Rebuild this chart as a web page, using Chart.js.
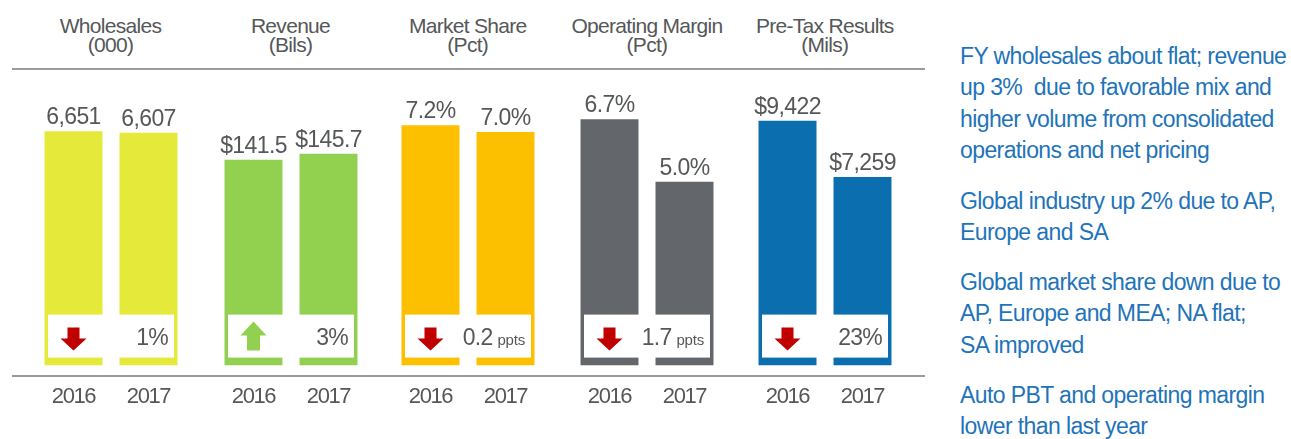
<!DOCTYPE html>
<html>
<head>
<meta charset="utf-8">
<script src="https://cdn.jsdelivr.net/npm/chart.js@4.4.1/dist/chart.umd.min.js"></script>
<style>
  body { margin: 0; width: 1291px; height: 439px; background: #fff; position: relative; overflow: hidden;
         font-family: 'Liberation Sans', Arial, sans-serif; }
  .title { position: absolute; top: 17px; width: 180px; text-align: center; color: #555759;
           font-size: 21px; line-height: 18.5px; letter-spacing: -0.7px; }
  .rule { position: absolute; left: 12px; width: 913px; height: 2px; background: #9b9b9b; z-index: 2; }
  canvas { position: absolute; top: 80px; }
  .note { position: absolute; left: 960px; color: #1f74b9; font-size: 23px; line-height: 31.3px;
          letter-spacing: -0.6px; white-space: nowrap; }
</style>
</head>
<body>
<div id="titles"></div>
<div class="rule" style="top:68px"></div>
<div class="rule" style="top:375px"></div>
<div id="charts"></div>

<div class="note" style="top:41px">FY wholesales about flat; revenue<br>up 3%&nbsp; due to favorable mix and<br>higher volume from consolidated<br>operations and net pricing</div>
<div class="note" style="top:186px">Global industry up 2% due to AP,<br>Europe and SA</div>
<div class="note" style="top:267px">Global market share down due to<br>AP, Europe and MEA; NA flat;<br>SA improved</div>
<div class="note" style="top:380px">Auto PBT and operating margin<br>lower than last year</div>

<script>
// chart data
const groups = ['Wholesales', 'Revenue', 'Market Share', 'Operating Margin', 'Pre-Tax Results'];
const units = ['(000)', '(Bils)', '(Pct)', '(Pct)', '(Mils)'];
const years = ['2016', '2017'];
const values2016 = [6651, 141.5, 7.2, 6.7, 9422];
const values2017 = [6607, 145.7, 7.0, 5.0, 7259];
const changeValues = ['1%', '3%', '0.2', '1.7', '23%'];
const changeUnits = ['', '', 'ppts', 'ppts', ''];
const changeDirs = ['down', 'up', 'down', 'down', 'down'];

// label formats
const prefixes = ['', '$', '', '', '$'];
const suffixes = ['', '', '%', '%', ''];
const decimals = [0, 1, 1, 1, 0];

// look
const barColors = ['#e5ea3a', '#92d050', '#fcc000', '#63666a', '#0a6eaf'];
const yMax = [7534, 182.6, 7.955, 7.226, 10225];
const centers = [110.5, 290.5, 467.75, 647, 824.75];
const textColor = '#555759';
const downColor = '#c00000';

function fmt(i, v) {
    return prefixes[i] + v.toLocaleString('en-US', {minimumFractionDigits: decimals[i], maximumFractionDigits: decimals[i]}) + suffixes[i];
}

const labelPlugin = {
    id: 'barLabels',
    beforeDraw(chart) {
        // tighter tick labels, the original font is narrower
        chart.ctx.letterSpacing = '-1.4px';
    },
    afterDatasetsDraw(chart) {
        const ctx = chart.ctx;
        const i = chart.options.groupIndex;
        const bars = chart.getDatasetMeta(0).data;
        const bottom = chart.chartArea.bottom;
        const values = chart.data.datasets[0].data;
        ctx.save();

        // values above bars
        ctx.fillStyle = textColor;
        ctx.font = '23px "Liberation Sans", Arial, sans-serif';
        ctx.letterSpacing = '-0.6px';
        ctx.textAlign = 'center';
        ctx.textBaseline = 'alphabetic';
        bars.forEach((b, k) => ctx.fillText(fmt(i, values[k]), b.x, b.y - 7));

        // change box
        const half = bars[0].width / 2;
        const left = bars[0].x - half + 3.5;
        const right = bars[1].x + half - 3.5;
        ctx.fillStyle = '#fff';
        ctx.fillRect(left, bottom - 51, right - left, 43);

        // arrow
        const ax = bars[0].x;
        ctx.beginPath();
        if (changeDirs[i] === 'down') {
            ctx.fillStyle = downColor;
            ctx.moveTo(ax - 6, bottom - 38);
            ctx.lineTo(ax + 6, bottom - 38);
            ctx.lineTo(ax + 6, bottom - 27);
            ctx.lineTo(ax + 13, bottom - 27);
            ctx.lineTo(ax, bottom - 15);
            ctx.lineTo(ax - 13, bottom - 27);
            ctx.lineTo(ax - 6, bottom - 27);
        } else {
            ctx.fillStyle = barColors[i];
            ctx.moveTo(ax, bottom - 44);
            ctx.lineTo(ax + 13, bottom - 30);
            ctx.lineTo(ax + 6.5, bottom - 30);
            ctx.lineTo(ax + 6.5, bottom - 15);
            ctx.lineTo(ax - 6.5, bottom - 15);
            ctx.lineTo(ax - 6.5, bottom - 30);
            ctx.lineTo(ax - 13, bottom - 30);
        }
        ctx.closePath();
        ctx.fill();

        // change text
        ctx.fillStyle = textColor;
        ctx.textAlign = 'right';
        let tx = right - 6;
        if (changeUnits[i]) {
            ctx.font = '15px "Liberation Sans", Arial, sans-serif';
            ctx.letterSpacing = '-0.2px';
            ctx.fillText(changeUnits[i], tx, bottom - 21);
            tx -= ctx.measureText(changeUnits[i]).width + 5;
        }
        ctx.font = '23px "Liberation Sans", Arial, sans-serif';
        ctx.letterSpacing = '-0.8px';
        ctx.fillText(changeValues[i], tx, bottom - 21);
        ctx.restore();
    }
};

const titlesBox = document.getElementById('titles');
const chartsBox = document.getElementById('charts');

groups.forEach((name, i) => {
    const t = document.createElement('div');
    t.className = 'title';
    t.style.left = (centers[i] - 90) + 'px';
    t.innerHTML = name + '<br>' + units[i];
    titlesBox.appendChild(t);

    const cv = document.createElement('canvas');
    cv.width = 150;
    cv.height = 340;
    cv.style.left = (centers[i] - 75) + 'px';
    chartsBox.appendChild(cv);

    new Chart(cv.getContext('2d'), {
        type: 'bar',
        data: {
            labels: years,
            datasets: [{
                data: [values2016[i], values2017[i]],
                backgroundColor: barColors[i],
                barPercentage: 0.773,
                categoryPercentage: 1.0
            }]
        },
        options: {
            groupIndex: i,
            responsive: false,
            animation: false,
            layout: { padding: { top: 20, left: 0, right: 0, bottom: 0 } },
            plugins: { legend: { display: false }, tooltip: { enabled: false } },
            scales: {
                x: {
                    grid: { display: false },
                    border: { display: false },
                    ticks: {
                        color: textColor,
                        padding: 10,
                        font: { family: '"Liberation Sans", Arial, sans-serif', size: 22 }
                    }
                },
                y: { display: false, min: 0, max: yMax[i] }
            }
        },
        plugins: [labelPlugin]
    });
});
</script>
</body>
</html>
